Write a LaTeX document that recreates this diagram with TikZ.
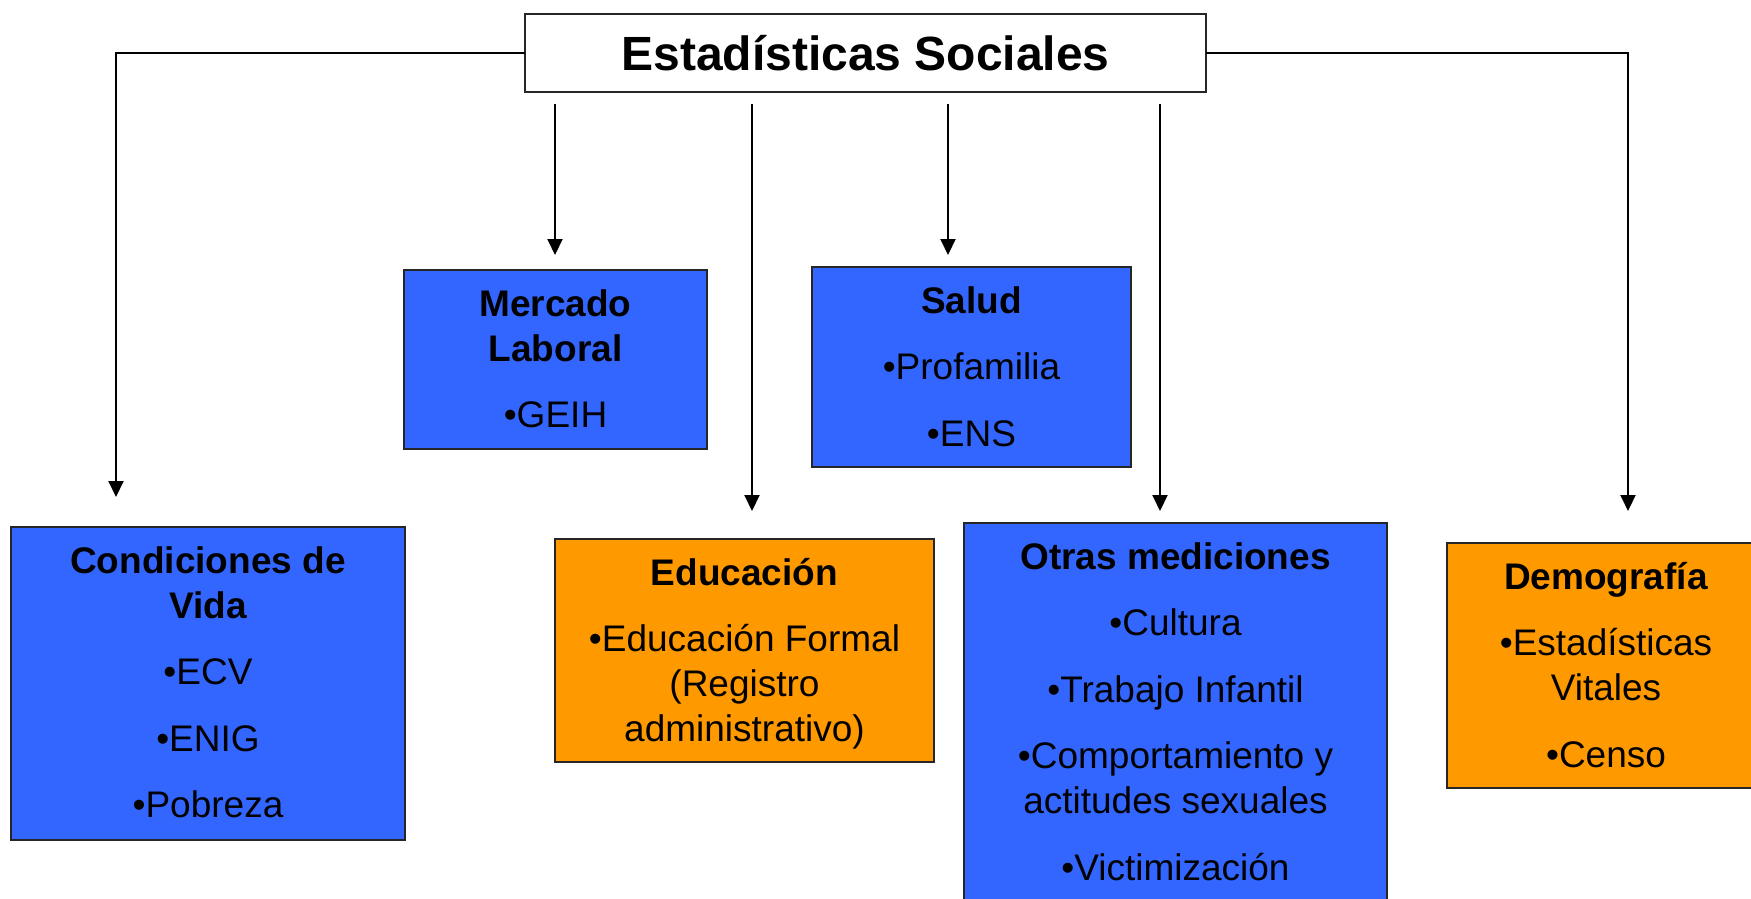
\documentclass[tikz,border=0pt]{standalone}
\usepackage{fontspec}
\setmainfont{Liberation Sans}
\usetikzlibrary{arrows.meta}
\definecolor{boxblue}{HTML}{3366FF}
\definecolor{boxorange}{HTML}{FF9900}
\begin{document}
\begin{tikzpicture}[x=1pt,y=-1pt,
  boxst/.style={draw=black!85, line width=1.8pt, outer sep=0pt, inner sep=0pt},
  bluebox/.style={boxst, fill=boxblue},
  orangebox/.style={boxst, fill=boxorange},
  txt/.style={anchor=north, align=center, inner sep=0pt, font=\fontsize{37}{45}\selectfont},
  conn/.style={line width=2pt, -{Triangle[length=16pt,width=15pt]}}
]
\clip (0,0) rectangle (1751,898);
\fill[white] (0,0) rectangle (1751,898);

% title box
\node[boxst, fill=white, minimum width=681pt, minimum height=78pt,
      font=\fontsize{48}{58}\selectfont\bfseries] (top) at (865.5,53) {Estadísticas Sociales};

% boxes
\node[bluebox, minimum width=303pt, minimum height=179pt] (merc) at (555.5,359.5) {};
\node[bluebox, minimum width=394pt, minimum height=313pt] (cond) at (208,683.5) {};
\node[orangebox, minimum width=379pt, minimum height=223pt] (educ) at (744.5,650.5) {};
\node[bluebox, minimum width=319pt, minimum height=200pt] (salud) at (971.5,367) {};
\node[bluebox, minimum width=423pt, minimum height=407pt] (otras) at (1175.5,726.5) {};
\node[orangebox, minimum width=318pt, minimum height=245pt] (demo) at (1606,665.5) {};

% texts
\node[txt] (tmerc) at ([yshift=-17pt]merc.north) {\rule{0pt}{29pt}\textbf{Mercado}\\\textbf{Laboral}\\[21.5pt]•GEIH};
\node[txt] (tcond) at ([yshift=-17pt]cond.north) {\rule{0pt}{29pt}\textbf{Condiciones de}\\\textbf{Vida}\\[21.5pt]•ECV\\[21.5pt]•ENIG\\[21.5pt]•Pobreza};
\node[txt] (teduc) at ([yshift=-17pt]educ.north) {\rule{0pt}{29pt}\textbf{Educación}\\[21.5pt]•Educación Formal\\(Registro\\administrativo)};
\node[txt] (tsalud) at ([yshift=-17pt]salud.north) {\rule{0pt}{29pt}\textbf{Salud}\\[21.5pt]•Profamilia\\[21.5pt]•ENS};
\node[txt] (totras) at ([yshift=-17pt]otras.north) {\rule{0pt}{29pt}\textbf{Otras mediciones}\\[21.5pt]•Cultura\\[21.5pt]•Trabajo Infantil\\[21.5pt]•Comportamiento y\\actitudes sexuales\\[21.5pt]•Victimización};
\node[txt] (tdemo) at ([yshift=-17pt]demo.north) {\rule{0pt}{29pt}\textbf{Demografía}\\[21.5pt]•Estadísticas\\Vitales\\[21.5pt]•Censo};

% connector end points
\coordinate (cvEnd) at (116,497);
\coordinate (dmEnd) at (1628,511);
\coordinate (s1) at (555,104);  \coordinate (e1) at (555,255);
\coordinate (s2) at (752,104);  \coordinate (e2) at (752,511);
\coordinate (s3) at (948,104);  \coordinate (e3) at (948,255);
\coordinate (s4) at (1160,104); \coordinate (e4) at (1160,511);

\draw[conn] (top.west) -| (cvEnd);
\draw[conn] (top.east) -| (dmEnd);
\draw[conn] (s1) -- (e1);
\draw[conn] (s2) -- (e2);
\draw[conn] (s3) -- (e3);
\draw[conn] (s4) -- (e4);
\end{tikzpicture}
\end{document}
